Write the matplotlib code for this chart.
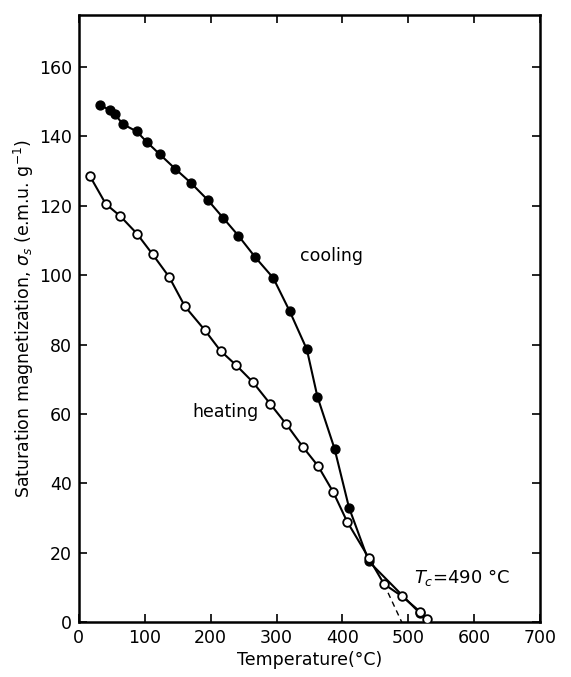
import matplotlib.pyplot as plt

# ── Data ─────────────────────────────────────────────────────────────────────
cool_T = [32, 47, 55, 67, 88, 103, 123, 146, 170, 196, 219, 242, 268, 295,
          320, 346, 362, 388, 410, 440, 518]
cool_s = [149, 147.6, 146.3, 143.5, 141.4, 138.4, 134.8, 130.7, 126.6, 121.6,
          116.5, 111.4, 105.1, 99.2, 89.6, 78.6, 65, 50, 33, 17.5, 2.5]

heat_T = [17, 41, 63, 88, 112, 137, 161, 191, 215, 239, 264, 290, 315, 340,
          363, 386, 407, 440, 463, 490, 518, 528]
heat_s = [128.5, 120.5, 117, 112, 106, 99.5, 91, 84.2, 78.2, 74, 69.2, 63,
          57, 50.5, 45, 37.5, 29, 18.5, 11, 7.5, 3, 1]

# extrapolation to the Curie point
tc_T = [463, 490]
tc_s = [11, 0]

x_ticks = [0, 100, 200, 300, 400, 500, 600, 700]
y_ticks = [0, 20, 40, 60, 80, 100, 120, 140, 160]

plt.rcParams.update({"font.family": "DejaVu Sans", "font.size": 12.5})

fig = plt.figure(figsize=(5.71, 6.77), dpi=100)
ax = fig.add_axes([0.138, 0.081, 0.808, 0.897])

ax.plot(cool_T, cool_s, color="black", lw=1.5, marker="o", ms=6.4,
        mfc="black", mec="black", zorder=3)
ax.plot(heat_T, heat_s, color="black", lw=1.5, marker="o", ms=6.2,
        mfc="white", mec="black", mew=1.3, zorder=4)
ax.plot(tc_T, tc_s, color="black", lw=1.0, ls=(0, (4, 3)), zorder=2)

ax.text(335, 105.5, "cooling", fontsize=12.5, va="center", ha="left")
ax.text(173, 60.5, "heating", fontsize=12.5, va="center", ha="left")
ax.text(508, 13, r"$T_c$=490 °C", fontsize=13, va="center", ha="left")

ax.set_xlim(0, 700)
ax.set_ylim(0, 175)
ax.set_xticks(x_ticks)
ax.set_yticks(y_ticks)
ax.tick_params(direction="in", length=6, width=1.2, top=True, right=True,
               labelsize=12.5, pad=5)
for sp in ax.spines.values():
    sp.set_linewidth(1.8)

ax.set_xlabel("Temperature(°C)", fontsize=12.5, labelpad=3)
ax.set_ylabel(r"Saturation magnetization, $\sigma_s$ (e.m.u. g$^{-1}$)",
              fontsize=12.5, labelpad=2)

fig.savefig("out.png", dpi=100)
